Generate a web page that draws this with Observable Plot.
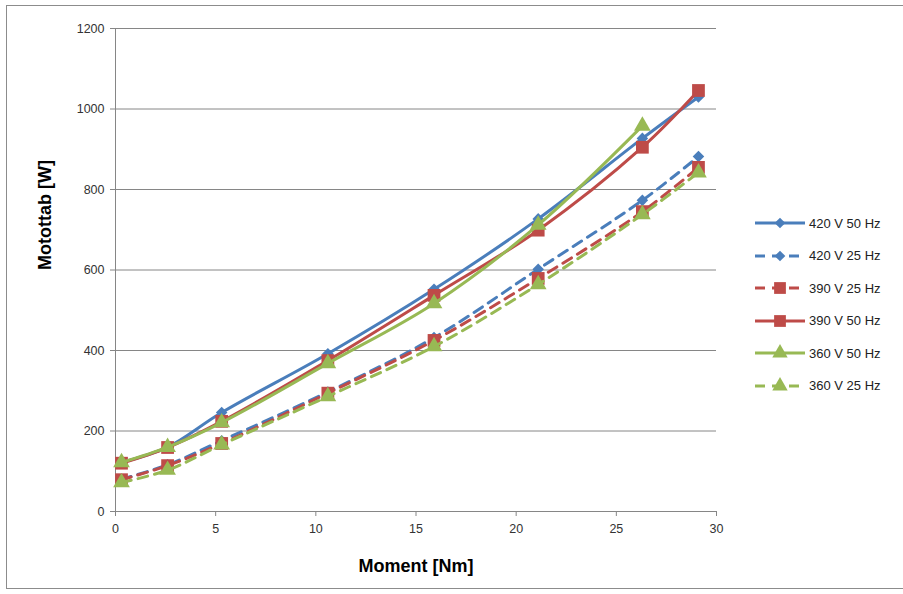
<!DOCTYPE html>
<html>
<head>
<meta charset="utf-8">
<script src="https://cdn.jsdelivr.net/npm/d3@7"></script>
<script src="https://cdn.jsdelivr.net/npm/@observablehq/plot@0.6"></script>
<style>
  html, body { margin: 0; padding: 0; background: #fff; }
  #wrap { position: relative; width: 903px; height: 594px; overflow: hidden; font-family: "Liberation Sans", Arial, sans-serif; }
  #frame { position: absolute; left: 6px; top: 5px; width: 900px; height: 584px; border: 1px solid #8c8c8c; box-sizing: border-box; pointer-events: none; }
  #chart { position: absolute; left: 0; top: 0; }
  #legend { position: absolute; left: 754px; top: 207px; font-size: 13px; color: #222; }
  .item { height: 32.5px; display: flex; align-items: center; }
  .item svg { margin-right: 3px; }
</style>
</head>
<body>
<div id="wrap">
  <div id="chart"></div>
  <div id="legend"></div>
  <div id="frame"></div>
</div>
<script>
// Data (moment in Nm, motor power in W)
const moment = [0.3, 2.6, 5.3, 10.6, 15.9, 21.1, 26.3, 29.1];
const p420_50 = [122, 160, 246, 392, 552, 727, 927, 1030];
const p420_25 = [80, 116, 176, 297, 432, 602, 773, 882];
const p390_25 = [79, 114, 169, 294, 425, 579, 745, 855];
const p390_50 = [120, 159, 224, 375, 537, 699, 905, 1046];
const p360_50 = [122, 160, 221, 368, 517, 712, 958];
const p360_25 = [72, 103, 166, 286, 410, 564, 738, 842];

const seriesNames = ["420 V 50 Hz", "420 V 25 Hz", "390 V 25 Hz", "390 V 50 Hz", "360 V 50 Hz", "360 V 25 Hz"];
const seriesValues = [p420_50, p420_25, p390_25, p390_50, p360_50, p360_25];
const xTicks = [0, 5, 10, 15, 20, 25, 30];
const yTicks = [0, 200, 400, 600, 800, 1000, 1200];

const styles = [
  {color: "#4a7ebb", dash: null, symbol: "diamond2", r: 5.2},
  {color: "#4a7ebb", dash: "10,7", symbol: "diamond2", r: 5.2},
  {color: "#be4b48", dash: "10,7", symbol: "square", r: 7.2},
  {color: "#be4b48", dash: null, symbol: "square", r: 7.2},
  {color: "#98b954", dash: null, symbol: "triangle", r: 6.2},
  {color: "#98b954", dash: "10,7", symbol: "triangle", r: 6.2}
];

const series = seriesNames.map((name, i) => ({
  name, ...styles[i],
  data: seriesValues[i].map((v, j) => ({x: moment[j], y: v}))
}));

const marks = [
  Plot.gridY(yTicks.filter(d => d > 0), {stroke: "#868686", strokeOpacity: 1, strokeWidth: 1}),
  Plot.ruleY([0], {stroke: "#868686", strokeWidth: 1}),
  Plot.ruleX([0], {stroke: "#868686", strokeWidth: 1}),
  Plot.axisY({ticks: yTicks, tickFormat: d => String(d), tickSize: 5, tickPadding: 6, stroke: "#868686", fontSize: 12.5, color: "#333", label: null}),
  Plot.axisX({ticks: xTicks, tickFormat: d => String(d), tickSize: 5, tickPadding: 8, stroke: "#868686", fontSize: 12.5, color: "#333", label: null}),
  Plot.text(["Moment [Nm]"], {frameAnchor: "bottom", dy: 60, fontSize: 18, fontWeight: "bold", fill: "#000"}),
  Plot.text(["Motottab [W]"], {frameAnchor: "left", dx: -70, rotate: -90, fontSize: 18, fontWeight: "bold", fill: "#000"})
];
for (const s of series) {
  marks.push(Plot.line(s.data, {x: "x", y: "y", stroke: s.color, strokeWidth: 3, strokeDasharray: s.dash || undefined, strokeLinecap: "round", curve: "catmull-rom"}));
  marks.push(Plot.dot(s.data, {x: "x", y: "y", symbol: () => s.symbol, fill: s.color, stroke: "none", r: s.r}));
}

const chart = Plot.plot({
  width: 903,
  height: 594,
  marginLeft: 115,
  marginRight: 187,
  marginTop: 28,
  marginBottom: 83,
  style: {fontFamily: "'Liberation Sans', Arial, sans-serif", background: "transparent", overflow: "visible"},
  x: {domain: [0, 30]},
  y: {domain: [0, 1200]},
  symbol: {type: "identity"},
  marks
});
document.getElementById("chart").appendChild(chart);

// Legend
const legend = d3.select("#legend");
for (const s of series) {
  const item = legend.append("div").attr("class", "item");
  const svg = item.append("svg").attr("width", 52).attr("height", 20);
  svg.append("line").attr("x1", 1).attr("x2", 51).attr("y1", 10).attr("y2", 10)
    .attr("stroke", s.color).attr("stroke-width", 3)
    .attr("stroke-dasharray", s.dash ? "10,7" : null);
  const sym = {diamond2: d3.symbolDiamond2, square: d3.symbolSquare, triangle: d3.symbolTriangle}[s.symbol];
  svg.append("path").attr("transform", "translate(26,10)")
    .attr("d", d3.symbol(sym, Math.PI * s.r * s.r * 0.85)())
    .attr("fill", s.color);
  item.append("span").text(s.name);
}
</script>
</body>
</html>
